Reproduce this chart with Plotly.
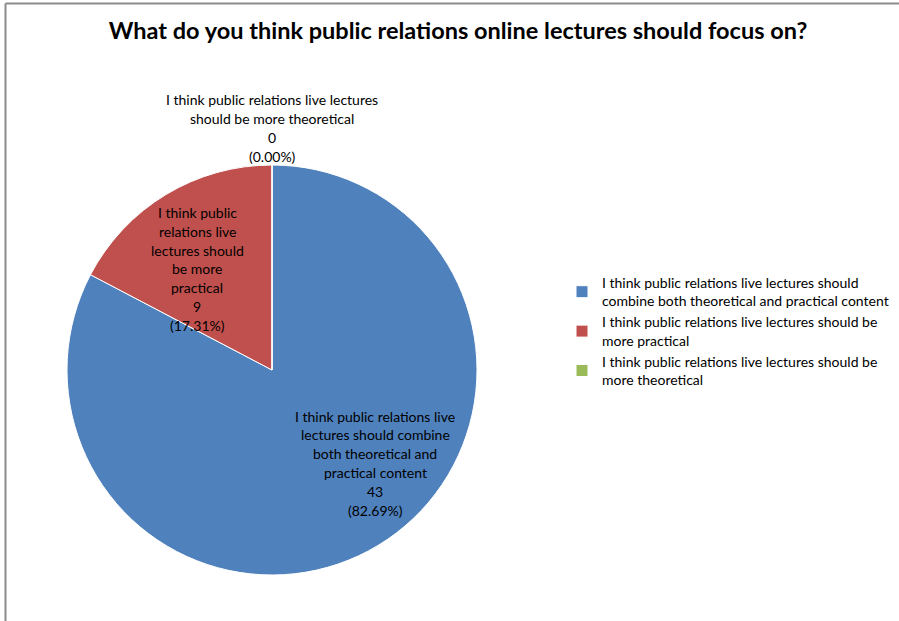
import plotly.graph_objects as go

W, H = 899, 621

categories = [
    "I think public relations live lectures should combine both theoretical and practical content",
    "I think public relations live lectures should be more practical",
    "I think public relations live lectures should be more theoretical",
]
counts = [43, 9, 0]
legend_labels = [
    "I think public relations live lectures should<br>combine both theoretical and practical content",
    "I think public relations live lectures should be<br>more practical",
    "I think public relations live lectures should be<br>more theoretical",
]
slice_label_lines = [
    ["I think public relations live", "lectures should combine", "both theoretical and", "practical content"],
    ["I think public", "relations live", "lectures should", "be more", "practical"],
    ["I think public relations live lectures", "should be more theoretical"],
]
colors = ["#4F81BD", "#C0504D", "#9BBB59"]
title = "What do you think public relations online lectures should focus on?"

FONT = "Lato"

total = sum(counts)
pcts = [c / total * 100 for c in counts]

# pie geometry in pixels
cx, cy, r = 272, 370, 205

fig = go.Figure(go.Pie(
    labels=legend_labels,
    values=counts,
    sort=False,
    direction="clockwise",
    rotation=0,
    marker=dict(colors=colors, line=dict(color="white", width=1)),
    textinfo="none",
    hoverinfo="label+value+percent",
    domain=dict(x=[(cx - r) / W, (cx + r) / W], y=[(H - cy - r) / H, (H - cy + r) / H]),
))

# label anchor centres (px) and line spacing
label_centres = [(375, 463), (197, 269), (272, 128)]
LS = 18.8
annotations = []
for lines, c, p, (lx, ly) in zip(slice_label_lines, counts, pcts, label_centres):
    all_lines = lines + [str(c), f"({p:.2f}%)"]
    n = len(all_lines)
    for i, t in enumerate(all_lines):
        y = ly + (i - (n - 1) / 2) * LS
        annotations.append(dict(
            text=t, x=lx / W, y=1 - y / H, xref="paper", yref="paper",
            xanchor="center", yanchor="middle", showarrow=False,
            font=dict(family=FONT, size=14, color="#000000"),
        ))

fig.update_layout(
    width=W, height=H,
    margin=dict(l=0, r=0, t=0, b=0),
    paper_bgcolor="white",
    plot_bgcolor="white",
    title=dict(text=title, x=458 / W, xanchor="center", y=1 - 31 / H, yanchor="middle",
               yref="container", font=dict(family=FONT, size=23.5, color="#000000", weight="bold")),
    showlegend=True,
    legend=dict(x=562 / W, y=1 - 267 / H, xanchor="left", yanchor="top",
                font=dict(family=FONT, size=14, color="#000000"),
                bgcolor="rgba(0,0,0,0)", itemclick=False),
    annotations=annotations,
    shapes=[
        dict(type="line", xref="paper", yref="paper", x0=5.5 / W, x1=5.5 / W, y0=0, y1=1 - 3.5 / H,
             line=dict(color="#8c8c8c", width=2)),
        dict(type="line", xref="paper", yref="paper", x0=5.5 / W, x1=1, y0=1 - 3.5 / H, y1=1 - 3.5 / H,
             line=dict(color="#8c8c8c", width=2)),
    ],
)

fig.write_html("out.html", config={"displayModeBar": False},
               post_script="document.body.style.margin='0';")
